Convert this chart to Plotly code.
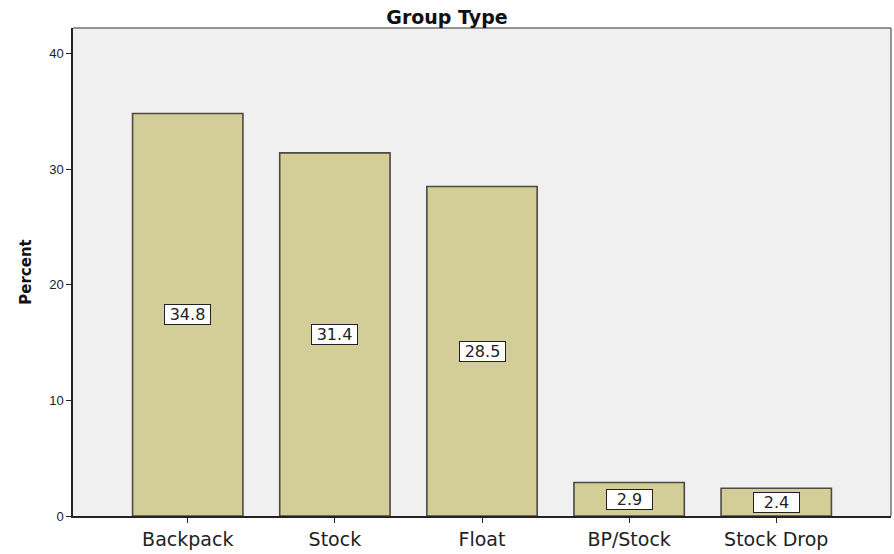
import plotly.graph_objects as go

# Group type frequencies (percent)
categories = ["Backpack", "Stock", "Float", "BP/Stock", "Stock Drop"]
percents = [34.8, 31.4, 28.5, 2.9, 2.4]
y_ticks = [0, 10, 20, 30, 40]

WIDE = "DejaVu Sans, Verdana, sans-serif"

fig = go.Figure()
fig.add_trace(go.Bar(
    x=categories,
    y=percents,
    width=0.75,
    marker=dict(color="#d3ce98", line=dict(color="#4d4a40", width=1.6)),
    hoverinfo="x+y",
))

# Boxed value labels at mid-height of each bar
for cat, val in zip(categories, percents):
    fig.add_annotation(
        x=cat, y=val / 2, text=f"{val}", showarrow=False,
        font=dict(family=WIDE, size=16, color="#222"),
        bgcolor="white", bordercolor="#222", borderwidth=1, borderpad=0,
        width=45, height=19,
    )

fig.update_layout(
    width=894, height=554,
    margin=dict(l=73, r=3, t=28, b=38),
    paper_bgcolor="white",
    plot_bgcolor="#f0f0f0",
    showlegend=False,
    bargap=0.25,
    title=dict(text="<b>Group Type</b>", x=0.5, xanchor="center", y=0.969, yanchor="middle",
               font=dict(family=WIDE, size=19, color="#111")),
    font=dict(family=WIDE, color="#111"),
)

fig.update_xaxes(
    range=[-0.78, 4.78],
    showline=True, linecolor="#222", linewidth=1.5, mirror=False,
    ticks="outside", ticklen=5, tickcolor="#222",
    tickfont=dict(family=WIDE, size=19, color="#222"),
    showgrid=False,
)
fig.update_yaxes(
    range=[0, 42.2],
    tickvals=y_ticks,
    showline=True, linecolor="#222", linewidth=1.5,
    ticks="outside", ticklen=5, tickcolor="#222",
    tickfont=dict(family="Liberation Sans, Arial, sans-serif", size=13, color="#222"),
    showgrid=False, zeroline=False,
    title=dict(text="<b>Percent</b>", font=dict(family=WIDE, size=15, color="#111"), standoff=14),
)

# Light frame on the top and right edges of the plot area
fig.add_shape(type="line", xref="paper", yref="paper", x0=0, x1=1, y0=1, y1=1,
              line=dict(color="#707070", width=1.5))
fig.add_shape(type="line", xref="paper", yref="paper", x0=1, x1=1, y0=0, y1=1,
              line=dict(color="#707070", width=1.5))

fig.write_html("out.html")
